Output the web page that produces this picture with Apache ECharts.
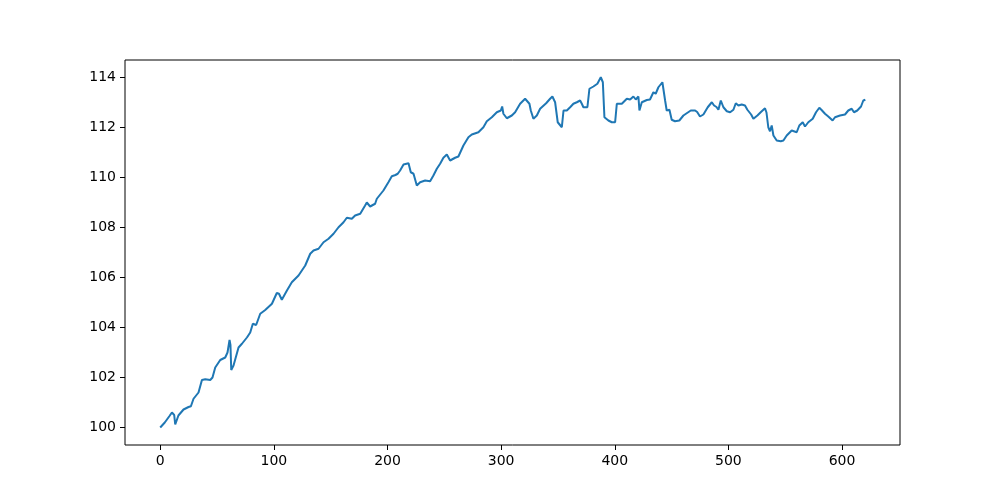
<!DOCTYPE html>
<html>
<head>
<meta charset="utf-8">
<script src="https://cdn.jsdelivr.net/npm/echarts@6/dist/echarts.min.js"></script>
<style>
  html, body { margin: 0; padding: 0; background: #fff; }
  #chart { width: 1000px; height: 500px; }
</style>
</head>
<body>
<div id="chart"></div>
<script>
// values
var xs = [0, 4, 8, 10.3, 12.3, 13.2, 16, 20.5, 24.9, 27, 29.3, 33.7, 36.7, 39.6, 41, 44, 46, 48.4, 52.8, 57.2,
  59.2, 61, 61.8, 62.5, 64.5, 68.9, 71.9, 76.3, 79.2, 81.5, 84.4, 88, 92.4, 94, 98.3, 102.6, 104.5, 107, 111.5, 115.8,
  117, 121.7, 127.6, 132, 134.9, 139.3, 143.7, 148.1, 152.5, 156.9, 158, 161.3, 164.2, 168.6, 171.5, 176, 180.3, 181.8, 184.7, 189.1,
  190.6, 196.4, 200.8, 203.8, 205.2, 207, 209, 211.1, 214.1, 218.5, 220.5, 222.9, 225.8, 228.7, 233.1, 237.5, 240.4, 243.4, 246.3, 249.2,
  252.2, 255.1, 259.5, 262.4, 266.8, 271.2, 274.2, 280, 284.4, 287.4, 291.8, 296.2, 299.7, 300.9, 302, 305, 309.4, 312.3, 316.7, 321.1,
  322.6, 324.9, 326.1, 328.4, 331.4, 334.3, 336, 339.6, 343.1, 345.1, 347.5, 349.8, 351.5, 353.4, 354.9, 357.8, 360.7, 363.6, 366.6, 369.5,
  371, 372.4, 375.9, 377.7, 381.2, 384.7, 387.7, 389.5, 390.9, 394.4, 397.4, 400.3, 401.8, 406.2, 410.6, 413.5, 416.4, 418.5, 420.8, 421.7,
  423.8, 428.2, 431, 434, 436, 438.4, 441.9, 444.3, 445.7, 448.1, 450.1, 453, 456.8, 460.4, 463.3, 465, 466.9, 470.7, 472.5, 475,
  478, 481.8, 485.4, 487.4, 489.5, 491.2, 493.3, 495.6, 498.6, 501.5, 504.4, 506.5, 508.8, 511.7, 514.6, 516.7, 520, 522, 525.5, 528.4,
  532.2, 533.5, 535.1, 536.6, 538.1, 539.6, 542.5, 546.1, 548.4, 551.3, 555.7, 560.1, 562.4, 565.4, 567.4, 570.3, 574.2, 577.1, 580, 582,
  585, 587.9, 591.7, 593.8, 598.2, 602.6, 605.5, 608.5, 610.5, 613.4, 615, 616.7, 618.7, 620.5]
var ys = [100.0, 100.2, 100.45, 100.6, 100.5, 100.12, 100.48, 100.72, 100.82, 100.85, 101.15, 101.4, 101.9, 101.93, 102.0, 101.9, 102.0, 102.4, 102.7, 102.8,
  103.0, 103.5, 103.3, 102.3, 102.48, 103.2, 103.35, 103.6, 103.8, 104.15, 104.1, 104.55, 104.7, 104.65, 104.95, 105.38, 105.35, 105.11, 105.48, 105.81,
  105.75, 106.08, 106.48, 106.95, 107.08, 107.15, 107.41, 107.55, 107.75, 108.01, 107.95, 108.21, 108.39, 108.35, 108.48, 108.55, 108.88, 109.0, 108.84, 108.95,
  109.15, 109.48, 109.81, 110.05, 110.0, 110.1, 110.15, 110.28, 110.52, 110.57, 110.21, 110.15, 109.68, 109.81, 109.88, 109.85, 110.08, 110.35, 110.55, 110.79,
  110.92, 110.68, 110.79, 110.84, 111.28, 111.61, 111.72, 111.81, 112.01, 112.25, 112.41, 112.61, 112.68, 112.84, 112.55, 112.37, 112.48, 112.61, 112.95, 113.15,
  113.19, 112.95, 112.68, 112.35, 112.48, 112.75, 112.7, 112.97, 113.15, 113.24, 113.01, 112.21, 112.15, 112.01, 112.68, 112.68, 112.81, 112.95, 113.01, 113.08,
  112.95, 112.81, 112.81, 113.55, 113.64, 113.75, 114.01, 113.81, 112.41, 112.28, 112.21, 112.21, 112.95, 112.95, 113.15, 113.12, 113.24, 113.12, 113.24, 112.68,
  113.01, 113.1, 113.12, 113.41, 113.35, 113.61, 113.81, 113.08, 112.68, 112.71, 112.31, 112.25, 112.28, 112.48, 112.57, 112.5, 112.68, 112.68, 112.62, 112.44,
  112.52, 112.81, 113.01, 112.88, 112.82, 112.71, 113.08, 112.81, 112.65, 112.61, 112.71, 112.97, 112.88, 112.92, 112.88, 112.71, 112.52, 112.35, 112.48, 112.61,
  112.77, 112.6, 112.01, 111.85, 112.08, 111.68, 111.48, 111.45, 111.48, 111.68, 111.88, 111.81, 112.08, 112.21, 112.04, 112.21, 112.35, 112.61, 112.79, 112.7,
  112.55, 112.44, 112.28, 112.41, 112.48, 112.52, 112.68, 112.75, 112.61, 112.68, 112.65, 112.84, 113.08, 113.11]

var xTicks = [0, 100, 200, 300, 400, 500, 600]
var yTicks = [100, 102, 104, 106, 108, 110, 112, 114]

var chart = echarts.init(document.getElementById('chart'))

var points = xs.map(function (x, i) { return [x, ys[i]] })

var option = {
  animation: false,
  backgroundColor: '#fff',
  grid: {
    left: 125,
    right: 100,
    top: 60,
    bottom: 55,
    show: true,
    borderColor: '#000',
    borderWidth: 1
  },
  xAxis: {
    type: 'value',
    min: -31,
    max: 651,
    axisLine: { show: false, onZero: false },
    splitLine: { show: false },
    axisTick: {
      show: true,
      customValues: xTicks,
      length: 5,
      lineStyle: { color: '#000', width: 1 }
    },
    axisLabel: {
      customValues: xTicks,
      margin: 9,
      color: '#000',
      fontSize: 14,
      fontFamily: 'DejaVu Sans'
    }
  },
  yAxis: {
    type: 'value',
    min: 99.3,
    max: 114.7,
    axisLine: { show: false, onZero: false },
    splitLine: { show: false },
    axisTick: {
      show: true,
      customValues: yTicks,
      length: 5,
      lineStyle: { color: '#000', width: 1 }
    },
    axisLabel: {
      customValues: yTicks,
      margin: 9,
      color: '#000',
      fontSize: 14,
      fontFamily: 'DejaVu Sans'
    }
  },
  series: [
    {
      type: 'line',
      data: points,
      showSymbol: false,
      lineStyle: { color: '#1f77b4', width: 2 },
      itemStyle: { color: '#1f77b4' }
    }
  ]
}

chart.setOption(option)
</script>
</body>
</html>
